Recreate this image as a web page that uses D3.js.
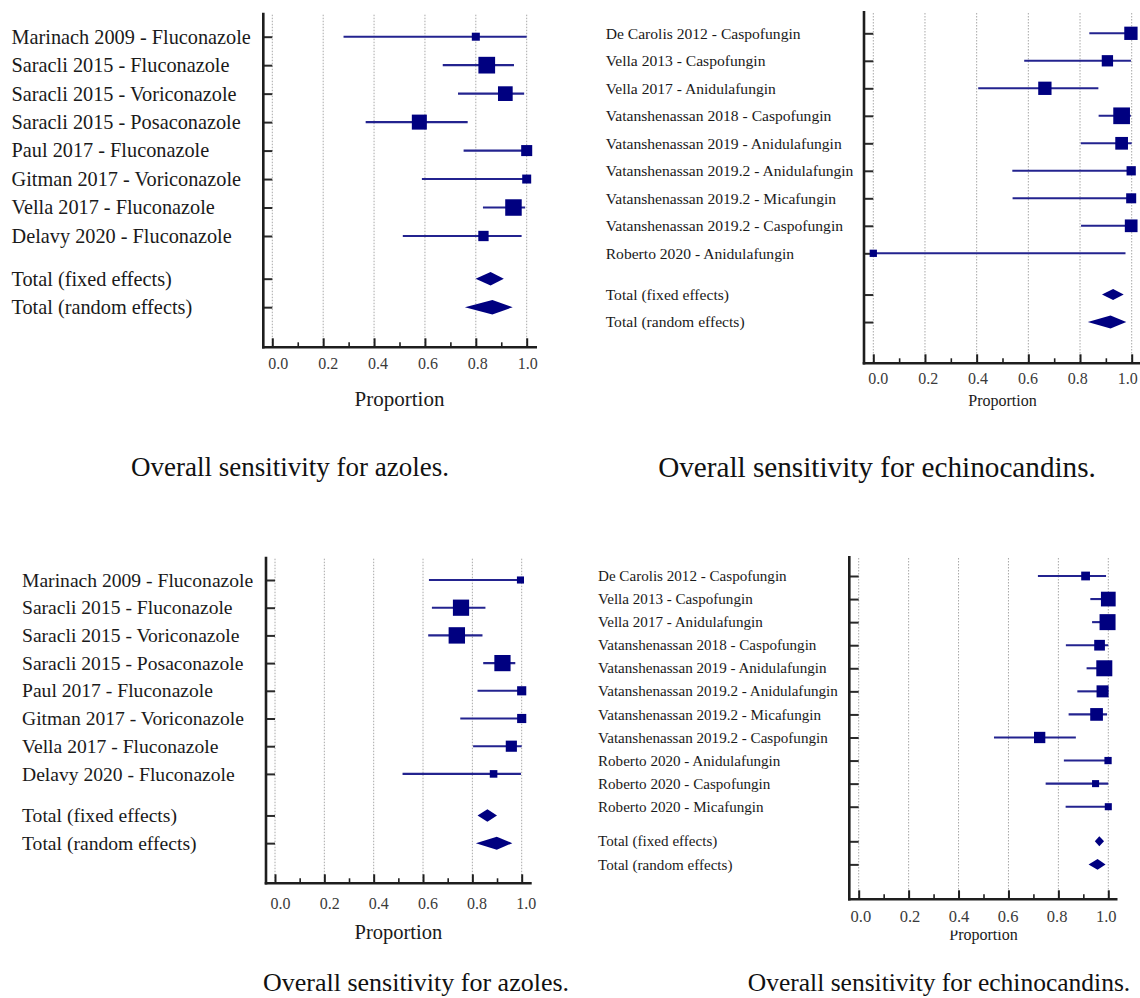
<!DOCTYPE html>
<html>
<head>
<meta charset="utf-8">
<script src="https://cdn.jsdelivr.net/npm/d3@7"></script>
<style>
  html, body { margin: 0; padding: 0; background: #fff; }
  svg { display: block; }
</style>
</head>
<body>
<svg id="chart" width="1140" height="998"></svg>
<script>
// ---------- DATA ----------
const axisTicks = [0, 0.2, 0.4, 0.6, 0.8, 1.0];
const axisMinorTicks = [0.1, 0.3, 0.5, 0.7, 0.9];
const totalLabels = ["Total (fixed effects)", "Total (random effects)"];
const axisTitle = "Proportion";

// Panel A: azoles (top)
const azolesAStudies = ["Marinach 2009 - Fluconazole", "Saracli 2015 - Fluconazole", "Saracli 2015 - Voriconazole", "Saracli 2015 - Posaconazole", "Paul 2017 - Fluconazole", "Gitman 2017 - Voriconazole", "Vella 2017 - Fluconazole", "Delavy 2020 - Fluconazole"];
const azolesAEst = [0.80, 0.843, 0.916, 0.578, 1.0, 1.0, 0.948, 0.83];
const azolesALow = [0.28, 0.67, 0.73, 0.367, 0.752, 0.588, 0.828, 0.513];
const azolesAHigh = [1.0, 0.95, 0.99, 0.768, 1.0, 1.0, 0.994, 0.98];
const azolesAWeight = [4.7, 20.4, 15.8, 16.5, 8.9, 5.9, 19.9, 7.8];
const azolesATotEst = [0.858, 0.865];
const azolesATotLow = [0.799, 0.757];
const azolesATotHigh = [0.910, 0.945];
const azolesACaption = "Overall sensitivity for azoles.";

// Panel B: echinocandins (top)
const echinoBStudies = ["De Carolis 2012 - Caspofungin", "Vella 2013 - Caspofungin", "Vella 2017 - Anidulafungin", "Vatanshenassan 2018 - Caspofungin", "Vatanshenassan 2019 - Anidulafungin", "Vatanshenassan 2019.2 - Anidulafungin", "Vatanshenassan 2019.2 - Micafungin", "Vatanshenassan 2019.2 - Caspofungin", "Roberto 2020 - Anidulafungin"];
const echinoBEst = [0.997, 0.906, 0.664, 0.961, 0.961, 0.998, 0.998, 0.998, 0.0];
const echinoBLow = [0.836, 0.584, 0.406, 0.872, 0.803, 0.538, 0.539, 0.804, 0.0];
const echinoBHigh = [1.0, 0.997, 0.871, 0.997, 1.0, 1.0, 1.0, 1.0, 0.976];
const echinoBWeight = [13.4, 9.7, 13.4, 21.1, 12.2, 6.5, 7.6, 12.2, 4.0];
const echinoBTotEst = [0.928, 0.918];
const echinoBTotLow = [0.885, 0.830];
const echinoBTotHigh = [0.969, 0.979];
const echinoBCaption = "Overall sensitivity for echinocandins.";

// Panel C: azoles (bottom)
const azolesCStudies = azolesAStudies;
const azolesCEst = [0.995, 0.754, 0.737, 0.922, 1.0, 1.0, 0.958, 0.886];
const azolesCLow = [0.624, 0.636, 0.621, 0.844, 0.821, 0.751, 0.803, 0.517];
const azolesCHigh = [1.0, 0.853, 0.841, 0.974, 1.0, 1.0, 1.0, 0.997];
const azolesCWeight = [4.2, 22.0, 22.5, 22.0, 7.0, 7.0, 10.4, 4.8];
const azolesCTotEst = [0.861, 0.899];
const azolesCTotLow = [0.821, 0.814];
const azolesCTotHigh = [0.900, 0.962];
const azolesCCaption = "Overall sensitivity for azoles.";

// Panel D: echinocandins (bottom)
const echinoDStudies = ["De Carolis 2012 - Caspofungin", "Vella 2013 - Caspofungin", "Vella 2017 - Anidulafungin", "Vatanshenassan 2018 - Caspofungin", "Vatanshenassan 2019 - Anidulafungin", "Vatanshenassan 2019.2 - Anidulafungin", "Vatanshenassan 2019.2 - Micafungin", "Vatanshenassan 2019.2 - Caspofungin", "Roberto 2020 - Anidulafungin", "Roberto 2020 - Caspofungin", "Roberto 2020 - Micafungin"];
const echinoDEst = [0.909, 1.0, 0.997, 0.965, 0.984, 0.977, 0.953, 0.725, 0.999, 0.949, 1.0];
const echinoDLow = [0.718, 0.928, 0.935, 0.830, 0.913, 0.876, 0.841, 0.542, 0.822, 0.749, 0.829];
const echinoDHigh = [0.991, 1.0, 1.0, 1.0, 1.0, 1.0, 0.995, 0.870, 1.0, 1.0, 1.0];
const echinoDWeight = [5.1, 14.4, 17.0, 7.6, 17.0, 9.6, 10.7, 8.5, 3.5, 3.3, 3.3];
const echinoDTotEst = [0.964, 0.957];
const echinoDTotLow = [0.946, 0.921];
const echinoDTotHigh = [0.983, 0.989];
const echinoDCaption = "Overall sensitivity for echinocandins.";

// ---------- LAYOUT / STYLE ----------
const FONT = "'Liberation Serif', 'Times New Roman', serif";
const MARK = "#000080";
const CI = "#23238f";

const panels = [
  { studies: azolesAStudies, est: azolesAEst, lo: azolesALow, hi: azolesAHigh, w: azolesAWeight,
    tEst: azolesATotEst, tLo: azolesATotLow, tHi: azolesATotHigh, caption: azolesACaption,
    L: { axisX: 263.3, top: 12.7, bottom: 347.3, x0: 272.3, x1: 526.7, axisRight: 537, row0: 36.7, step: 28.47,
         labelX: 11.5, labelFs: 20.3, tickFs: 16, tickLabelY: 364, tickDx: [5.5, 0.5], propY: 398.7, propFs: 21,
         capX: 290, capY: 467, capFs: 27, maxSide: 16.7, dH: [13.5, 14.5] } },
  { studies: echinoBStudies, est: echinoBEst, lo: echinoBLow, hi: echinoBHigh, w: echinoBWeight,
    tEst: echinoBTotEst, tLo: echinoBTotLow, tHi: echinoBTotHigh, caption: echinoBCaption,
    L: { axisX: 864, top: 11, bottom: 363.3, x0: 873.3, x1: 1131.7, axisRight: 1140, row0: 33.3, step: 27.5,
         labelX: 605.7, labelFs: 15.6, tickFs: 16, tickLabelY: 378.3, tickDx: [4.5, -4.5], propY: 401, propFs: 16,
         capX: 877, capY: 466.7, capFs: 29.2, maxSide: 16.7, dH: [11, 13] } },
  { studies: azolesCStudies, est: azolesCEst, lo: azolesCLow, hi: azolesCHigh, w: azolesCWeight,
    tEst: azolesCTotEst, tLo: azolesCTotLow, tHi: azolesCTotHigh, caption: azolesCCaption,
    L: { axisX: 266, top: 556.7, bottom: 883.3, x0: 275, x1: 521.7, axisRight: 531.7, row0: 580, step: 27.7,
         labelX: 22, labelFs: 19.6, tickFs: 16, tickLabelY: 904, tickDx: [5, 4], propY: 932.3, propFs: 20.5,
         capX: 416, capY: 982, capFs: 26, maxSide: 16.4, dH: [12.5, 13] } },
  { studies: echinoDStudies, est: echinoDEst, lo: echinoDLow, hi: echinoDHigh, w: echinoDWeight,
    tEst: echinoDTotEst, tLo: echinoDTotLow, tHi: echinoDTotHigh, caption: echinoDCaption,
    L: { axisX: 849.3, top: 556, bottom: 899.3, x0: 858.7, x1: 1108.3, axisRight: 1117.5, row0: 576, step: 23.07,
         labelX: 598, labelFs: 15.1, tickFs: 16.5, tickLabelY: 916.7, tickDx: [1.7, -2.6], propY: 935, propFs: 16, propClipY: 930.5,
         capX: 939, capY: 982, capFs: 25.5, maxSide: 16, dH: [10, 10.7] } }
];

const svg = d3.select("#chart");

panels.forEach((p, pi) => {
  const L = p.L;
  const g = svg.append("g");
  const n = p.studies.length;
  const x = d3.scaleLinear().domain([0, 1]).range([L.x0, L.x1]);
  const y = d3.scaleLinear().domain([0, 1]).range([L.row0, L.row0 + L.step]);
  const side = d3.scaleSqrt().domain([0, d3.max(p.w)]).range([0, L.maxSide]);
  const labelShift = d3.scaleLinear().domain([0, 1]).range(L.tickDx);
  const totRows = [n + 0.5, n + 1.5];
  const allRows = d3.range(n).concat(totRows);

  // gridlines
  g.append("g").selectAll("line").data(axisTicks).join("line")
    .attr("x1", d => x(d)).attr("x2", d => x(d))
    .attr("y1", L.top + 2).attr("y2", L.bottom)
    .attr("stroke", "#a8a8a8").attr("stroke-width", 1).attr("stroke-dasharray", "1.5,1.5");

  // y axis with row ticks
  const yAxis = d3.axisRight(y).tickValues(allRows).tickSize(L.x0 - L.axisX).tickFormat("");
  const ya = g.append("g").attr("transform", `translate(${L.axisX},0)`).call(yAxis);
  ya.select(".domain").remove();
  ya.selectAll(".tick line").attr("stroke", "#2a2a2a").attr("stroke-width", 2);
  g.append("line").attr("x1", L.axisX).attr("x2", L.axisX).attr("y1", L.top).attr("y2", L.bottom + 1.2)
    .attr("stroke", "#1e1e1e").attr("stroke-width", 2.6);

  // bottom axis
  const majorAxis = d3.axisBottom(x).tickValues(axisTicks).tickSize(-9).tickFormat(d3.format(".1f"))
    .tickPadding(0);
  const xa = g.append("g").attr("transform", `translate(0,${L.bottom})`).call(majorAxis);
  xa.select(".domain").remove();
  xa.selectAll(".tick line").attr("stroke", "#1e1e1e").attr("stroke-width", 2);
  xa.selectAll(".tick text")
    .attr("y", L.tickLabelY - L.bottom).attr("dy", "0.34em").attr("dx", d => labelShift(d))
    .attr("font-family", FONT).attr("font-size", L.tickFs).attr("fill", "#3a3a3a");
  const minorAxis = d3.axisBottom(x).tickValues(axisMinorTicks).tickSize(-5).tickFormat("");
  const xm = g.append("g").attr("transform", `translate(0,${L.bottom})`).call(minorAxis);
  xm.select(".domain").remove();
  xm.selectAll(".tick line").attr("stroke", "#1e1e1e").attr("stroke-width", 1.6);
  g.append("line").attr("x1", L.axisX - 1.3).attr("x2", L.axisRight).attr("y1", L.bottom).attr("y2", L.bottom)
    .attr("stroke", "#1e1e1e").attr("stroke-width", 2.6);

  // axis title
  const prop = g.append("text").attr("x", (L.x0 + L.x1) / 2).attr("y", L.propY).attr("dy", "0.34em")
    .attr("text-anchor", "middle").attr("font-family", FONT).attr("font-size", L.propFs)
    .attr("fill", "#1a1a1a").text(axisTitle);
  if (L.propClipY) {
    const cid = "propclip" + pi;
    svg.append("defs").append("clipPath").attr("id", cid).append("rect")
      .attr("x", L.x0 - 20).attr("y", L.propClipY).attr("width", 300).attr("height", 40);
    prop.attr("clip-path", `url(#${cid})`);
  }

  // row labels
  const labels = p.studies.concat(totalLabels);
  g.append("g").selectAll("text").data(labels).join("text")
    .attr("x", L.labelX).attr("y", (d, i) => y(allRows[i])).attr("dy", "0.34em")
    .attr("font-family", FONT).attr("font-size", L.labelFs).attr("fill", "#1a1a1a")
    .text(d => d);

  // CI lines
  g.append("g").selectAll("line").data(d3.range(n)).join("line")
    .attr("x1", i => x(p.lo[i])).attr("x2", i => x(p.hi[i]))
    .attr("y1", i => y(i)).attr("y2", i => y(i))
    .attr("stroke", CI).attr("stroke-width", 2.1);

  // squares
  g.append("g").selectAll("rect").data(d3.range(n)).join("rect")
    .attr("x", i => x(p.est[i]) - side(p.w[i]) / 2)
    .attr("y", i => y(i) - side(p.w[i]) / 2)
    .attr("width", i => side(p.w[i])).attr("height", i => side(p.w[i]))
    .attr("fill", MARK);

  // diamonds
  g.append("g").selectAll("path").data([0, 1]).join("path")
    .attr("d", k => {
      const yy = y(totRows[k]), h = L.dH[k] / 2;
      return `M${x(p.tLo[k])},${yy} L${x(p.tEst[k])},${yy - h} L${x(p.tHi[k])},${yy} L${x(p.tEst[k])},${yy + h} Z`;
    })
    .attr("fill", MARK);

  // caption
  g.append("text").attr("x", L.capX).attr("y", L.capY).attr("dy", "0.34em")
    .attr("text-anchor", "middle").attr("font-family", FONT).attr("font-size", L.capFs)
    .attr("fill", "#111").text(p.caption);
});
</script>
</body>
</html>
